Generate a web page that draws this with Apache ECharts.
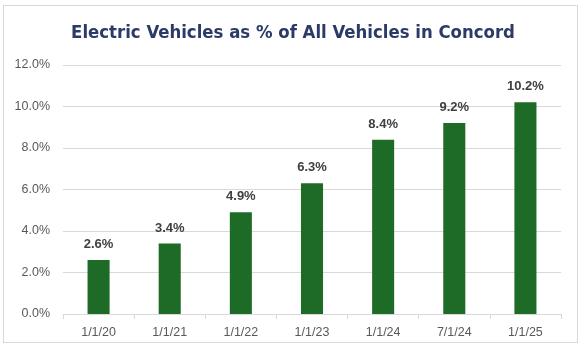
<!DOCTYPE html>
<html><head><meta charset="utf-8">
<script src="https://cdn.jsdelivr.net/npm/echarts@6/dist/echarts.min.js"></script>
<style>html,body{margin:0;padding:0;background:#fff}#c{width:586px;height:362px}
#frame{position:absolute;left:3px;top:5px;width:575px;height:338px;border:1px solid #d9d9d9;box-sizing:border-box;pointer-events:none}</style>
</head><body><div id="c"></div><div id="frame"></div>
<script>
const titleText = 'Electric Vehicles as % of All Vehicles in Concord';
const categories = ['1/1/20','1/1/21','1/1/22','1/1/23','1/1/24','7/1/24','1/1/25'];
const evShare = [2.6, 3.4, 4.9, 6.3, 8.4, 9.2, 10.2];
const chart = echarts.init(document.getElementById('c'), null, {renderer:'canvas'});
chart.setOption({
  animation:false,
  title:{text:titleText,left:'center',top:19,textStyle:{fontFamily:'DejaVu Sans Condensed, sans-serif',fontWeight:'bold',fontSize:18.4,color:'#2B3A67'}},
  grid:{left:63,right:25,top:65,bottom:48},
  xAxis:{type:'category',data:categories,axisLine:{lineStyle:{color:'#d9d9d9'}},axisTick:{show:true,length:5,lineStyle:{color:'#d9d9d9'}},
    axisLabel:{color:'#595959',fontSize:12.5,fontFamily:'Liberation Sans, Arial, sans-serif',margin:12}},
  yAxis:{type:'value',min:0,max:12,interval:2,axisLine:{show:false},axisTick:{show:false},
    splitLine:{lineStyle:{color:'#d9d9d9'}},
    axisLabel:{color:'#595959',fontSize:12.5,fontFamily:'Liberation Sans, Arial, sans-serif',margin:13,formatter:v=>v.toFixed(1)+'%'}},
  series:[{type:'bar',data:evShare,barWidth:'31%',itemStyle:{color:'#1E6B27'},
    label:{show:true,position:'top',distance:9,color:'#404040',fontWeight:'bold',fontSize:13,fontFamily:'Liberation Sans, Arial, sans-serif',formatter:p=>p.value.toFixed(1)+'%'}}]
});
</script></body></html>
